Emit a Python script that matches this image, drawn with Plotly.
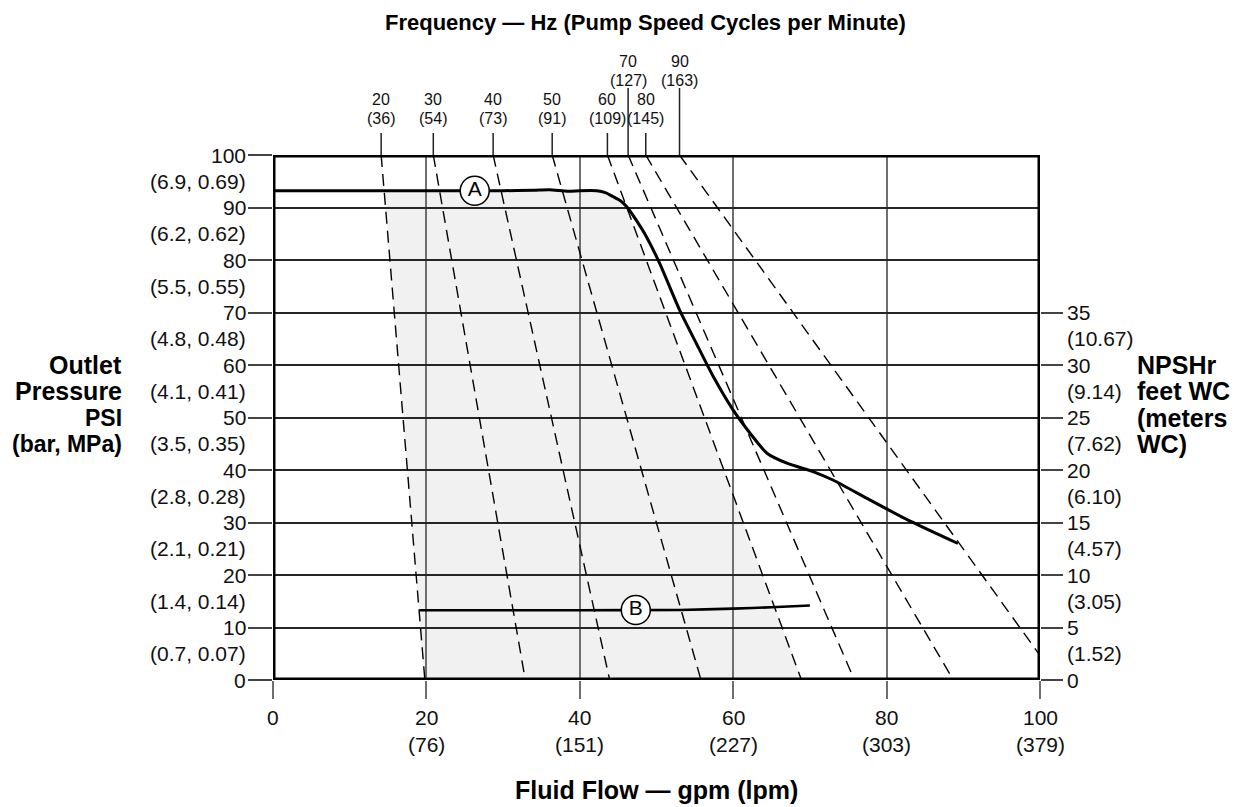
import numpy as np
import plotly.graph_objects as go

# ---- Pump speed (frequency) reference lines -------------------------------
freq_hz = [20, 30, 40, 50, 60, 70, 80, 90]
freq_cpm = [36, 54, 73, 91, 109, 127, 145, 163]
freq_gpm_at_100psi = [14.1, 20.9, 28.7, 36.4, 43.6, 46.3, 48.6, 53.0]
freq_gpm_at_0psi = [19.8, 32.9, 43.9, 55.8, 68.9, 75.8, 88.7, 102.3]

# ---- Curve A: outlet pressure (PSI) vs flow (gpm) --------------------------
curve_a_gpm = [0, 10, 20, 30, 34.0, 36.0, 38.5, 40.0, 42.2, 43.4, 44.3,
               45.3, 46.1, 47.4, 48.7, 50.4, 53.0, 55.2, 57.4, 60.0, 62.2,
               64.4, 67.0, 70.4, 73.0, 77.8, 83.0, 89.3]
curve_a_psi = [93.2, 93.2, 93.2, 93.2, 93.3, 93.4, 93.1, 93.2, 93.2,
               92.8, 92.1, 91.3, 90.2, 87.5, 84.4, 79.4, 70.5, 64.1, 57.8,
               51.4, 47.0, 43.2, 41.3, 39.7, 38.1, 34.3, 30.3, 26.0]

# ---- Curve B: NPSHr (feet WC) vs flow (gpm) --------------------------------
curve_b_gpm = [19.1, 30, 40, 53, 60, 65, 70]
curve_b_ft = [6.65, 6.65, 6.65, 6.67, 6.8, 6.93, 7.1]

# ---- Axis tick values and labels -------------------------------------------
flow_gpm_ticks = [0, 20, 40, 60, 80, 100]
flow_lpm_labels = ["", "(76)", "(151)", "(227)", "(303)", "(379)"]
psi_ticks = [0, 10, 20, 30, 40, 50, 60, 70, 80, 90, 100]
psi_metric_labels = ["", "(0.7, 0.07)", "(1.4, 0.14)", "(2.1, 0.21)",
                     "(2.8, 0.28)", "(3.5, 0.35)", "(4.1, 0.41)",
                     "(4.8, 0.48)", "(5.5, 0.55)", "(6.2, 0.62)",
                     "(6.9, 0.69)"]
npsh_ft_ticks = [0, 5, 10, 15, 20, 25, 30, 35]
npsh_m_labels = ["", "(1.52)", "(3.05)", "(4.57)", "(6.10)", "(7.62)",
                 "(9.14)", "(10.67)"]

FONT = "Liberation Sans, Arial, Helvetica, sans-serif"
TICK_SIZE = 21
FREQ_SIZE = 16
PLOT_W, PLOT_H = 767, 525


def line_gpm(i, psi):
    """Flow on frequency line i at a given pressure."""
    t, b = freq_gpm_at_100psi[i], freq_gpm_at_0psi[i]
    return b + (t - b) * psi / 100.0


def line_psi(i, gpm):
    """Pressure on frequency line i at a given flow."""
    t, b = freq_gpm_at_100psi[i], freq_gpm_at_0psi[i]
    return 100.0 * (b - gpm) / (b - t)


fig = go.Figure()

# ---- Shaded operating region: between 20 Hz and 60 Hz lines, under curve A --
a_g = np.array(curve_a_gpm)
a_p = np.array(curve_a_psi)
left_i, right_i = 0, 4

g = 15.0
for _ in range(20):
    g = line_gpm(left_i, np.interp(g, a_g, a_p))
left_pt = (g, float(np.interp(g, a_g, a_p)))

grid = np.linspace(40, 60, 4001)
diff = np.interp(grid, a_g, a_p) - line_psi(right_i, grid)
k = int(np.argmax(diff > 0))
gr = grid[k]
right_pt = (gr, float(np.interp(gr, a_g, a_p)))

poly = [(freq_gpm_at_0psi[left_i], 0.0), left_pt]
poly += [(x, y) for x, y in zip(curve_a_gpm, curve_a_psi)
         if left_pt[0] < x < right_pt[0]]
poly += [right_pt, (freq_gpm_at_0psi[right_i], 0.0)]
path = "M " + " L ".join(f"{x:.3f},{y:.3f}" for x, y in poly) + " Z"

shapes = [dict(type="path", path=path, xref="x", yref="y",
               fillcolor="#f1f1f1", line=dict(width=0), layer="below")]

# ---- Frequency lines (dashed inside the chart) -----------------------------
for i, hz in enumerate(freq_hz):
    fig.add_trace(go.Scatter(
        x=[freq_gpm_at_100psi[i], freq_gpm_at_0psi[i]], y=[100, 0],
        mode="lines", line=dict(color="black", width=1.4, dash="12px,7px"),
        hoverinfo="skip", showlegend=False))

# ---- Curves A and B ---------------------------------------------------------
fig.add_trace(go.Scatter(
    x=curve_a_gpm, y=curve_a_psi, mode="lines",
    line=dict(color="black", width=3, shape="spline", smoothing=0.6),
    showlegend=False, hoverinfo="skip"))
fig.add_trace(go.Scatter(
    x=curve_b_gpm, y=curve_b_ft, yaxis="y2", mode="lines",
    line=dict(color="black", width=2.6, shape="spline", smoothing=0.6),
    showlegend=False, hoverinfo="skip"))

# Circled curve labels
a_label_gpm = 26.3
b_label_gpm = 47.3
fig.add_trace(go.Scatter(
    x=[a_label_gpm], y=[float(np.interp(a_label_gpm, a_g, a_p))],
    mode="markers+text", text=["A"], textposition="middle center",
    textfont=dict(family=FONT, size=21, color="black"),
    marker=dict(size=29, color="white", line=dict(color="black", width=1.5)),
    showlegend=False, hoverinfo="skip", cliponaxis=False))
fig.add_trace(go.Scatter(
    x=[b_label_gpm], y=[float(np.interp(b_label_gpm, curve_b_gpm, curve_b_ft))],
    yaxis="y2", mode="markers+text", text=["B"], textposition="middle center",
    textfont=dict(family=FONT, size=21, color="black"),
    marker=dict(size=29, color="white", line=dict(color="black", width=1.5)),
    showlegend=False, hoverinfo="skip", cliponaxis=False))

# ---- Frame around the plotting area -----------------------------------------
shapes.append(dict(type="rect", xref="x", yref="y", x0=0, x1=100, y0=0, y1=100,
                   line=dict(color="black", width=5), layer="above"))

# ---- Frequency ticks and labels above the chart -----------------------------
raised = {70, 90}
annotations = []
for i, hz in enumerate(freq_hz):
    top = freq_gpm_at_100psi[i]
    tick_len = 67 if hz in raised else 22
    shapes.append(dict(type="line", xref="x", yref="paper", x0=top, x1=top,
                       y0=1, y1=1 + tick_len / PLOT_H,
                       line=dict(color="#222", width=1.5)))
    num_shift, par_shift = (94, 75) if hz in raised else (56, 37)
    annotations.append(dict(x=top, y=1, xref="x", yref="paper", yshift=num_shift,
                            text=str(hz), showarrow=False, yanchor="middle",
                            font=dict(family=FONT, size=FREQ_SIZE, color="#111")))
    annotations.append(dict(x=top, y=1, xref="x", yref="paper", yshift=par_shift,
                            text=f"({freq_cpm[i]})", showarrow=False,
                            yanchor="middle",
                            font=dict(family=FONT, size=FREQ_SIZE, color="#111")))

# ---- Flow axis labels (bottom) ----------------------------------------------
for v, lab in zip(flow_gpm_ticks, flow_lpm_labels):
    annotations.append(dict(x=v, y=0, xref="x", yref="paper", yshift=-37,
                            text=str(v), showarrow=False, yanchor="middle",
                            font=dict(family=FONT, size=TICK_SIZE, color="#111")))
    if lab:
        annotations.append(dict(x=v, y=0, xref="x", yref="paper", yshift=-64,
                                text=lab, showarrow=False, yanchor="middle",
                                font=dict(family=FONT, size=TICK_SIZE,
                                          color="#111")))

# ---- Pressure axis labels (left) --------------------------------------------
for v, lab in zip(psi_ticks, psi_metric_labels):
    annotations.append(dict(x=0, y=v, xref="paper", yref="y", xshift=-25,
                            text=str(v), showarrow=False, xanchor="right",
                            yanchor="middle",
                            font=dict(family=FONT, size=TICK_SIZE, color="#111")))
    if lab:
        annotations.append(dict(x=0, y=v - 5, xref="paper", yref="y", xshift=-25,
                                text=lab, showarrow=False, xanchor="right",
                                yanchor="middle",
                                font=dict(family=FONT, size=TICK_SIZE,
                                          color="#111")))

# ---- NPSHr axis labels (right) ----------------------------------------------
for v, lab in zip(npsh_ft_ticks, npsh_m_labels):
    annotations.append(dict(x=1, y=v, xref="paper", yref="y2", xshift=25,
                            text=str(v), showarrow=False, xanchor="left",
                            yanchor="middle",
                            font=dict(family=FONT, size=TICK_SIZE, color="#111")))
    if lab:
        annotations.append(dict(x=1, y=v - 2.5, xref="paper", yref="y2", xshift=25,
                                text=lab, showarrow=False, xanchor="left",
                                yanchor="middle",
                                font=dict(family=FONT, size=TICK_SIZE,
                                          color="#111")))

# ---- Titles -------------------------------------------------------------------
bold = dict(family=FONT, color="black")
annotations.append(dict(x=0.4855, y=1, xref="paper", yref="paper", yshift=133,
                        text="<b>Frequency — Hz (Pump Speed Cycles per Minute)</b>",
                        showarrow=False, yanchor="middle",
                        font=dict(size=22, **bold)))
annotations.append(dict(x=0.5, y=0, xref="paper", yref="paper", yshift=-110,
                        text="<b>Fluid Flow — gpm (lpm)</b>",
                        showarrow=False, yanchor="middle",
                        font=dict(size=25, **bold)))
for txt, psi, size in [("Outlet", 60, 25), ("Pressure", 55, 25),
                       ("PSI", 50, 23), ("(bar, MPa)", 45, 23)]:
    annotations.append(dict(x=0, y=psi, xref="paper", yref="y", xshift=-149,
                            text=f"<b>{txt}</b>", showarrow=False,
                            xanchor="right", yanchor="middle",
                            font=dict(size=size, **bold)))
for txt, ft in [("NPSHr", 30), ("feet WC", 27.5), ("(meters", 25), ("WC)", 22.5)]:
    annotations.append(dict(x=1, y=ft, xref="paper", yref="y2", xshift=95,
                            text=f"<b>{txt}</b>", showarrow=False,
                            xanchor="left", yanchor="middle",
                            font=dict(size=25, **bold)))

fig.update_layout(
    width=1241, height=807, autosize=False,
    margin=dict(l=273, r=201, t=155, b=127, pad=0),
    paper_bgcolor="white", plot_bgcolor="white",
    shapes=shapes, annotations=annotations,
    xaxis=dict(range=[0, 100], tickvals=flow_gpm_ticks, showticklabels=False,
               showgrid=True, gridcolor="#6f6f6f", gridwidth=2,
               ticks="outside", ticklen=18, tickwidth=2, tickcolor="#6f6f6f",
               zeroline=False, showline=False, fixedrange=True),
    yaxis=dict(range=[0, 100], tickvals=psi_ticks, showticklabels=False,
               showgrid=True, gridcolor="#262626", gridwidth=1.6,
               ticks="outside", ticklen=24, tickwidth=1.6, tickcolor="#444",
               zeroline=False, showline=False, fixedrange=True),
    yaxis2=dict(range=[0, 50], overlaying="y", side="right", anchor="x",
                tickvals=npsh_ft_ticks, showticklabels=False, showgrid=False,
                ticks="outside", ticklen=22, tickwidth=1.6, tickcolor="#444",
                zeroline=False, showline=False, fixedrange=True),
)

fig.write_html("out.html")
